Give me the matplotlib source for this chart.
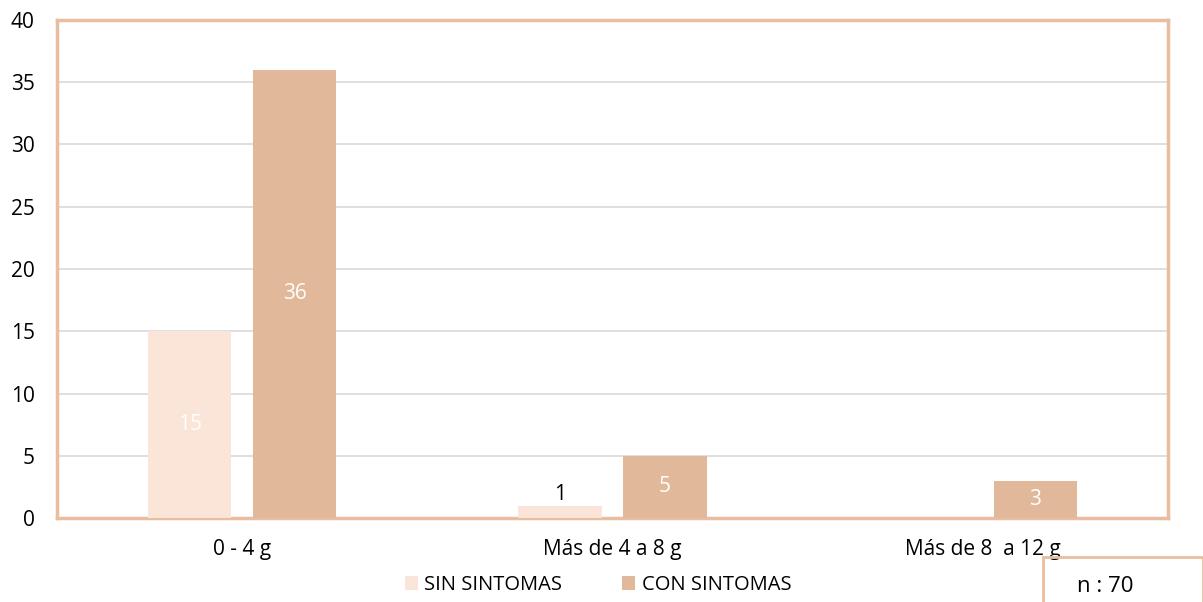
import matplotlib
matplotlib.use("Agg")
import matplotlib.pyplot as plt
import numpy as np
from matplotlib.patches import Rectangle

categories = ["0 - 4 g", "Más de 4 a 8 g", "Más de 8  a 12 g"]
sin_sintomas = [15, 1, 0]
con_sintomas = [36, 5, 3]
series_names = ["SIN SINTOMAS", "CON SINTOMAS"]
yticks = [0, 5, 10, 15, 20, 25, 30, 35, 40]

plt.rcParams['font.family'] = ['Open Sans', 'DejaVu Sans']

c_sin = "#FAE5D8"
c_con = "#E1B99A"
frame = "#E8BE9F"

fig = plt.figure(figsize=(12.03, 6.02), dpi=100)
ax = fig.add_axes([57/1203, 1 - 518/602, 1111/1203, 498/602])

x = np.arange(len(categories))
w = 0.225
off = 0.142
b1 = ax.bar(x - off, sin_sintomas, w, color=c_sin, label=series_names[0], zorder=3)
b2 = ax.bar(x + off, con_sintomas, w, color=c_con, label=series_names[1], zorder=3)

for rect, v in zip(b1, sin_sintomas):
    if v == 0:
        continue
    cx = rect.get_x() + rect.get_width() / 2
    if v >= 5:
        ax.text(cx, v / 2, str(v), ha='center', va='center', color='white', fontsize=15, zorder=4)
    else:
        ax.text(cx, v + 0.9, str(v), ha='center', va='center', color='black', fontsize=15, zorder=4)
for rect, v in zip(b2, con_sintomas):
    cx = rect.get_x() + rect.get_width() / 2
    ax.text(cx, v / 2, str(v), ha='center', va='center', color='white', fontsize=15, zorder=4)

ax.set_xlim(-0.5, 2.5)
ax.set_ylim(0, 40)
ax.set_yticks(yticks)
ax.set_xticks(x)
ax.set_xticklabels(categories, fontsize=15)
ax.tick_params(axis='both', length=0, labelsize=15)
ax.tick_params(axis='x', pad=15)
ax.tick_params(axis='y', pad=16)
ax.grid(axis='y', color='#D9D9D9', linewidth=1.2, zorder=0)
for s in ax.spines.values():
    s.set_color(frame)
    s.set_linewidth(2.5)

fig.legend(handles=[b1, b2], labels=series_names, loc='center', bbox_to_anchor=(598/1203, 1 - 585/602),
           ncol=2, frameon=False, fontsize=14.5, handlelength=0.65, handleheight=0.65,
           handletextpad=0.3, columnspacing=3.0)

fig.patches.append(Rectangle((1043/1203, -0.05), 160/1203, 0.05 + 45/602, transform=fig.transFigure,
                             facecolor='none', edgecolor=frame, linewidth=2, clip_on=False))
fig.text(1105/1203, 1 - 586/602, "n : 70", ha='center', va='center', fontsize=16)

fig.savefig("out.png", dpi=100)
